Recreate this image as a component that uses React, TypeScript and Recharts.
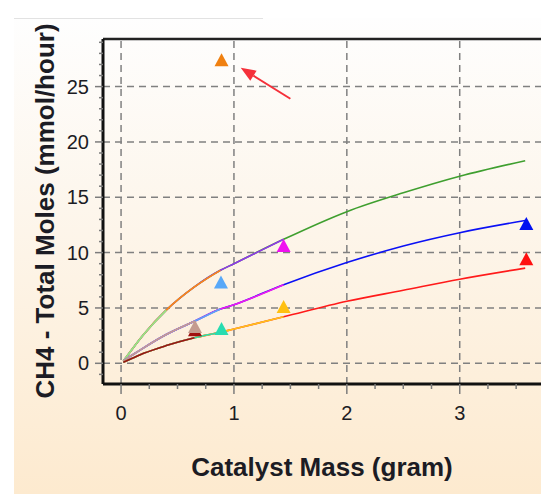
import {
  ComposedChart,
  Line,
  ReferenceLine,
  Scatter,
  XAxis,
  YAxis,
} from "recharts";

// model curves (catalyst mass in gram -> CH4 mmol/hour)
const massGrid = [0.02, 0.1, 0.2, 0.4, 0.65, 0.88, 1.0, 1.44, 2.0, 2.5, 3.0, 3.58];
const upperCurve = [0.2, 1.3, 2.6, 4.8, 6.9, 8.4, 9.0, 11.2, 13.7, 15.4, 16.9, 18.3];
const middleCurve = [0.2, 0.75, 1.4, 2.6, 3.8, 4.9, 5.3, 7.1, 9.1, 10.6, 11.8, 12.9];
const lowerCurve = [0.1, 0.45, 0.9, 1.6, 2.3, 2.8, 3.1, 4.2, 5.6, 6.6, 7.6, 8.6];

// each run follows one curve up to its own catalyst mass
const runCurves = [
  upperCurve, upperCurve, upperCurve, upperCurve,
  middleCurve, middleCurve, middleCurve, middleCurve,
  lowerCurve, lowerCurve, lowerCurve, lowerCurve,
];
const runEndMass = [3.58, 1.44, 0.88, 0.4, 3.58, 1.44, 0.88, 0.65, 3.58, 1.44, 0.88, 0.65];
const runColors = [
  "#3f9f2f", "#9035ee", "#ff8a10", "#90ea8c",
  "#0a10f5", "#f018f0", "#5aa8f5", "#c89a90",
  "#ff1a1a", "#ffc21a", "#2adcb0", "#a01010",
];

// measured points (triangles)
const measuredMass = [0.655, 0.655, 0.885, 0.89, 0.89, 1.44, 1.44, 3.59, 3.59];
const measuredCH4 = [2.9, 3.2, 7.2, 3.0, 27.3, 10.5, 5.0, 12.5, 9.3];
const measuredColors = [
  "#a01010", "#c49a8e", "#58a8f8", "#28dcb0", "#f08010",
  "#f010f0", "#ffc010", "#0010f0", "#ff1010",
];

const xMajorTicks = [0, 1, 2, 3];
const xTicks = [0, 0.25, 0.5, 0.75, 1, 1.25, 1.5, 1.75, 2, 2.25, 2.5, 2.75, 3, 3.25, 3.5];
const yMajorTicks = [0, 5, 10, 15, 20, 25];
const yTicks = [-1, 0, 1, 2, 3, 4, 5, 6, 7, 8, 9, 10, 11, 12, 13, 14, 15, 16, 17, 18, 19, 20, 21, 22, 23, 24, 25, 26, 27, 28, 29];

const xDomain = [-0.16, 3.72];
const yDomain = [-1.87, 29.3];

const arrowFrom = { x: 1.5, y: 23.9 };
const arrowTo = { x: 1.06, y: 26.7 };

const FONT = "'Liberation Sans', Arial, sans-serif";
const TICK_GRAY = "#7c7c7c";

function XTick(props: any) {
  const { x, y, payload } = props;
  const major = xMajorTicks.includes(payload.value);
  return (
    <g>
      <line x1={x} x2={x} y1={y} y2={y + (major ? 10 : 5)} stroke={TICK_GRAY} strokeWidth={1.5} />
      {major && (
        <text x={x} y={y + 36} textAnchor="middle" fontSize={20} fontFamily={FONT} fill="#1c1c24">
          {payload.value}
        </text>
      )}
    </g>
  );
}

function YTick(props: any) {
  const { x, y, payload } = props;
  const major = yMajorTicks.includes(payload.value);
  return (
    <g>
      <line x1={x - (major ? 8 : 4)} x2={x} y1={y} y2={y} stroke={TICK_GRAY} strokeWidth={1.5} />
      {major && (
        <text x={x - 14} y={y + 7} textAnchor="end" fontSize={20} fontFamily={FONT} fill="#1c1c24">
          {payload.value}
        </text>
      )}
    </g>
  );
}

function Triangle(props: any) {
  const { cx, cy, fill } = props;
  const w = 7;
  return (
    <polygon
      points={`${cx},${cy - 8} ${cx - w},${cy + 5} ${cx + w},${cy + 5}`}
      fill={fill}
    />
  );
}

function Arrow(props: any) {
  const { x1, y1, x2, y2 } = props;
  const dx = x2 - x1;
  const dy = y2 - y1;
  const len = Math.sqrt(dx * dx + dy * dy);
  const ux = dx / len;
  const uy = dy / len;
  const hl = 15;
  const hw = 6;
  const bx = x2 - ux * hl;
  const by = y2 - uy * hl;
  return (
    <g>
      <line x1={x1} y1={y1} x2={bx} y2={by} stroke="#f5303a" strokeWidth={2} />
      <polygon
        points={`${x2},${y2} ${bx - uy * hw},${by + ux * hw} ${bx + uy * hw},${by - ux * hw}`}
        fill="#f5303a"
      />
    </g>
  );
}

export default function App() {
  const runs = runCurves.map((curve, i) =>
    massGrid
      .map((m, j) => ({ mass: m, ch4: curve[j] }))
      .filter((p) => p.mass <= runEndMass[i] + 1e-9)
  );

  return (
    <div
      style={{
        position: "absolute",
        left: 0,
        top: 0,
        width: 541,
        height: 494,
        background: "#ffffff",
        overflow: "hidden",
      }}
    >
      <div
        style={{
          position: "absolute",
          left: 14,
          top: 18,
          width: 527,
          height: 476,
          background: "linear-gradient(to bottom, #fefefe 0%, #fdf6ec 40%, #fdeacf 100%)",
        }}
      />
      <div style={{ position: "absolute", left: 14, top: 18, width: 249, height: 1, background: "#e2e2e2" }} />
      <div style={{ position: "absolute", left: 0, top: 0 }}>
        <ComposedChart width={541} height={494} margin={{ top: 39, right: 0, bottom: 0, left: 0 }}>
          <XAxis
            type="number"
            dataKey="mass"
            domain={xDomain}
            allowDataOverflow
            ticks={xTicks}
            interval={0}
            height={110}
            tickLine={false}
            tickSize={0}
            tickMargin={0}
            tick={<XTick />}
            axisLine={{ stroke: "#111", strokeWidth: 3 }}
            label={{
              value: "Catalyst Mass (gram)",
              content: () => (
                <text x={322} y={476} textAnchor="middle" fontSize={26} fontWeight="bold" fontFamily={FONT} fill="#1c1c24">
                  Catalyst Mass (gram)
                </text>
              ),
            }}
          />
          <YAxis
            type="number"
            dataKey="ch4"
            domain={yDomain}
            allowDataOverflow
            ticks={yTicks}
            interval={0}
            width={103}
            tickLine={false}
            tickSize={0}
            tickMargin={0}
            tick={<YTick />}
            axisLine={{ stroke: "#111", strokeWidth: 3 }}
            label={{
              value: "CH4 - Total Moles (mmol/hour)",
              content: () => (
                <text
                  x={54}
                  y={211}
                  transform="rotate(-90 54 211)"
                  textAnchor="middle"
                  fontSize={26}
                  fontWeight="bold"
                  fontFamily={FONT}
                  fill="#1c1c24"
                >
                  CH4 - Total Moles (mmol/hour)
                </text>
              ),
            }}
          />

          {yMajorTicks.map((v) => (
            <ReferenceLine key={"gy" + v} y={v} stroke="#808080" strokeWidth={1.5} strokeDasharray="7 5" />
          ))}
          {xMajorTicks.map((v) => (
            <ReferenceLine key={"gx" + v} x={v} stroke="#808080" strokeWidth={1.5} strokeDasharray="7 5" />
          ))}
          <ReferenceLine y={yDomain[1]} stroke="#222" strokeWidth={2.5} />

          {runs.map((data, i) => (
            <Line
              key={"run" + i}
              data={data}
              dataKey="ch4"
              type="monotone"
              stroke={runColors[i]}
              strokeWidth={1.6}
              dot={false}
              activeDot={false}
              isAnimationActive={false}
            />
          ))}

          {measuredMass.map((m, i) => (
            <Scatter
              key={"pt" + i}
              data={[{ mass: m, ch4: measuredCH4[i] }]}
              dataKey="ch4"
              fill={measuredColors[i]}
              shape={<Triangle />}
              isAnimationActive={false}
            />
          ))}

          <ReferenceLine segment={[arrowFrom, arrowTo]} shape={(p: any) => <Arrow {...p} />} />
        </ComposedChart>
      </div>
    </div>
  );
}
